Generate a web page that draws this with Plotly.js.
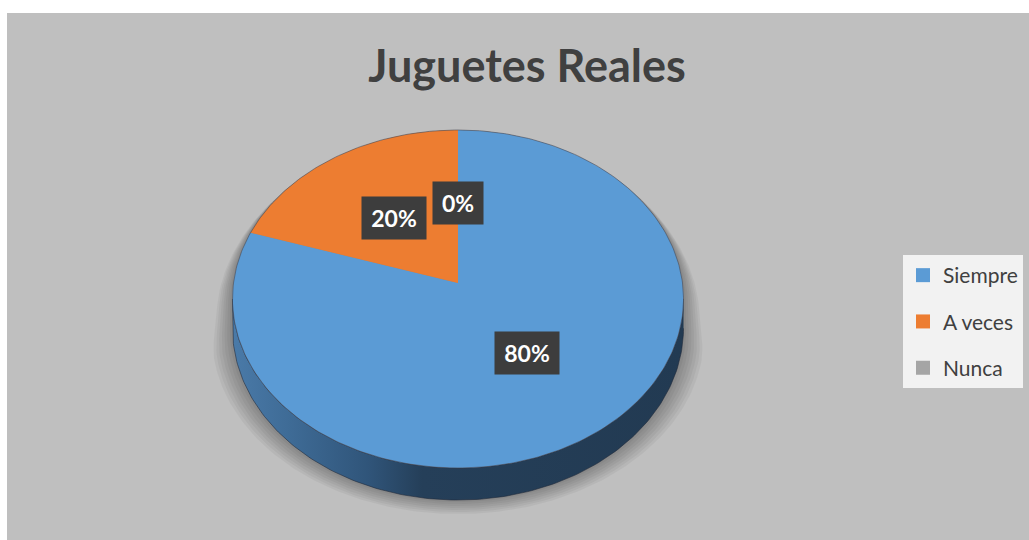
<!DOCTYPE html>
<html>
<head>
<meta charset="utf-8">
<script src="https://cdn.plot.ly/plotly-3.0.1.min.js"></script>
<style>html,body{margin:0;padding:0;background:#fff;}#chart{width:1029px;height:540px;}</style>
</head>
<body>
<div id="chart"></div>
<script>
// ---- data ----
const categories = ['Siempre', 'A veces', 'Nunca'];
const values = [80, 20, 0];
const percentLabels = ['80%', '20%', '0%'];
const sliceColors = ['#5b9bd5', '#ed7d31', '#a5a5a5'];
const chartTitle = 'Juguetes Reales';

// ---- 3D pie geometry (layout, in axis units == pixels) ----
const CX = 458, CY = 283;     // apex of the pie on screen
const A = 224.5, B = 167.5;   // horizontal / vertical radii
const K = 0.0947;             // perspective factor
const H = 29;                 // thickness
const FONT = 'Lato, "Open Sans", sans-serif';

function proj(thetaDeg, r) {
  const t = thetaDeg * Math.PI / 180;
  const u = r * Math.sin(t), v = r * Math.cos(t);
  const d = 1 + K * v;
  return [CX + A * u / d, CY - B * v / d, v];
}
function thick(thetaDeg) {
  const v = Math.cos(thetaDeg * Math.PI / 180);
  return H / (1 + K * v);
}
function range(a, b, step) {
  const out = [];
  if (a <= b) { for (let t = a; t < b; t += step) out.push(t); }
  else { for (let t = a; t > b; t -= step) out.push(t); }
  out.push(b);
  return out;
}

const total = values.reduce((s, v) => s + v, 0);
const starts = [];
let acc = 0;
values.forEach(v => { starts.push(acc / total * 360); acc += v; });
const ends = values.map((v, i) => starts[i] + v / total * 360);

const thL = 360 - Math.acos(-K) * 180 / Math.PI; // left widest
const thR = Math.acos(-K) * 180 / Math.PI;       // right widest

function silhouette() {
  const xs = [], ys = [];
  range(thL, 360 + thR, 1).forEach(t => { const p = proj(t, 1); xs.push(p[0]); ys.push(p[1]); });
  range(thR, thL, 1).forEach(t => { const p = proj(t, 1); xs.push(p[0]); ys.push(p[1] + thick(t)); });
  return [xs, ys];
}

const traces = [];

// shadow layers
const [sx, sy] = silhouette();
for (let i = 7; i >= 1; i--) {
  const xs = sx.map((x, j) => { const tt = Math.min(1, Math.max(0, (sy[j] - 150) / 200)); return CX + (x - CX) * (1 + 0.013 * i * tt); });
  const ys = sy.map(y => { const tt = Math.max(0, (y - 130) / 370); return y + 2 * i * tt; });
  traces.push({ type: 'scatter', mode: 'lines', x: xs, y: ys, fill: 'toself',
    fillcolor: 'rgba(0,0,0,0.045)', line: { width: 0 }, hoverinfo: 'skip', showlegend: false });
}

// side wall
{
  const xs = [], ys = [];
  range(thR, thL, 1).forEach(t => { const p = proj(t, 1); xs.push(p[0]); ys.push(p[1]); });
  range(thL, thR, 1).forEach(t => { const p = proj(t, 1); xs.push(p[0]); ys.push(p[1] + thick(t)); });
  traces.push({ type: 'scatter', mode: 'lines', x: xs, y: ys, fill: 'toself',
    fillcolor: '#243d55',
    fillgradient: { type: 'horizontal',
      colorscale: [[0, '#4a7aa8'], [0.12, '#3f6c97'], [0.3, '#30557a'], [0.42, '#253f59'], [1, '#223a52']] },
    line: { width: 0.8, color: 'rgba(30,40,55,0.7)' }, hoverinfo: 'skip', showlegend: false });
}

// top slices
values.forEach((v, i) => {
  if (v <= 0) return;
  const xs = [CX], ys = [CY];
  range(starts[i], ends[i], 0.5).forEach(t => { const p = proj(t, 1); xs.push(p[0]); ys.push(p[1]); });
  xs.push(CX); ys.push(CY);
  traces.push({ type: 'scatter', mode: 'lines', x: xs, y: ys, fill: 'toself',
    fillcolor: sliceColors[i], line: { width: 0, color: sliceColors[i] },
    name: categories[i], hoverinfo: 'name', showlegend: false });
});

// rim outline
{
  const xs = [], ys = [];
  range(0, 360, 1).forEach(t => { const p = proj(t, 1); xs.push(p[0]); ys.push(p[1]); });
  traces.push({ type: 'scatter', mode: 'lines', x: xs, y: ys,
    line: { width: 1, color: 'rgba(70,70,80,0.55)' }, hoverinfo: 'skip', showlegend: false });
}

// legend entries
categories.forEach((c, i) => {
  traces.push({ type: 'scatter', mode: 'markers', x: [null], y: [null], name: c,
    legendgroup: c, marker: { symbol: 'square', size: 14, color: sliceColors[i] }, showlegend: true });
});

// labels
const boxW = [64, 64, 50];
const annotations = values.map((v, i) => {
  const mid = (starts[i] + ends[i]) / 2;
  const p = proj(mid, 0.5);
  return { x: p[0], y: p[1], xref: 'x', yref: 'y', text: '<b>' + percentLabels[i] + '</b>',
    showarrow: false, font: { family: FONT, size: 23, color: '#ffffff' },
    bgcolor: '#3d3d3d', borderpad: 0, width: boxW[i], height: 42, align: 'center', valign: 'middle' };
});

const layout = {
  width: 1029, height: 540,
  margin: { l: 7, r: 0, t: 13, b: 0 },
  paper_bgcolor: '#ffffff', plot_bgcolor: '#bfbfbf',
  title: { text: '<b>' + chartTitle + '</b>', x: 527 / 1029, xanchor: 'center', xref: 'container',
    y: 1 - 66 / 540, yanchor: 'middle', yref: 'container',
    font: { family: FONT, size: 45, color: '#404040' } },
  xaxis: { range: [7, 1029], visible: false, fixedrange: true },
  yaxis: { range: [540, 13], visible: false, fixedrange: true },
  showlegend: true,
  legend: { x: (903 - 7) / 1022, xanchor: 'left', y: (540 - 255) / 527, yanchor: 'top',
    bgcolor: '#f2f2f2', font: { family: FONT, size: 21, color: '#404040' },
    tracegroupgap: 16, itemwidth: 30, traceorder: 'grouped' },
  annotations: annotations
};

Plotly.newPlot('chart', traces, layout, { displayModeBar: false, staticPlot: true });
</script>
</body>
</html>
